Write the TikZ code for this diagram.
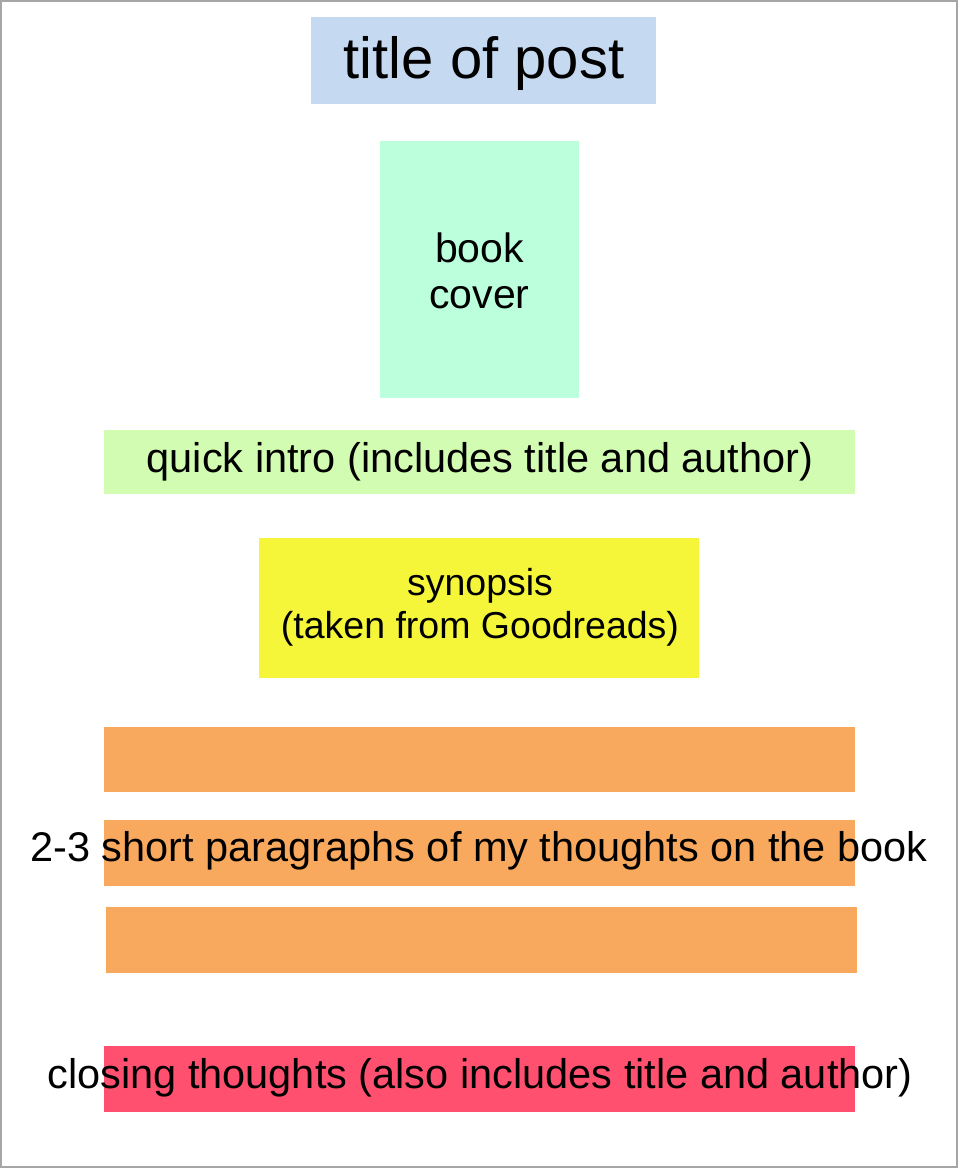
\documentclass[tikz,border=0pt]{standalone}
\usepackage{fontspec}
\setmainfont{Liberation Sans}
\definecolor{cblue}{HTML}{C5D9F1}
\definecolor{cmint}{HTML}{BBFFDC}
\definecolor{cgreen}{HTML}{D2FCB2}
\definecolor{cyellow}{HTML}{F5F53A}
\definecolor{corange}{HTML}{F9A95E}
\definecolor{cred}{HTML}{FF5070}
\begin{document}
\begin{tikzpicture}[x=1pt,y=-1pt,
  blk/.style={inner sep=0pt,draw=none},
  lbl/.style={inner sep=0pt,align=center,font=\fontsize{41.5}{46}\selectfont}]
\useasboundingbox (0,0) rectangle (958,1168);
\draw[gray!70,line width=1.5pt] (1,1) rectangle (957,1167);
\fill[cblue] (311,17) rectangle (656,104);
\node[lbl,font=\fontsize{58}{60}\selectfont] (title) at (484,63) {title of post};
\fill[cmint] (380,141) rectangle (579,398);
\node[lbl,font=\fontsize{41}{46}\selectfont] (cover) at (479.5,271) {book\\cover};
\fill[cgreen] (104,430) rectangle (855,494);
\node[lbl] (intro) at (480,462) {quick intro (includes title and author)};
\fill[cyellow] (259,538) rectangle (699,678);
\node[lbl,font=\fontsize{37.5}{43}\selectfont] (syn) at (480,607) {synopsis\\ (taken from Goodreads)};
\fill[corange] (104,727) rectangle (855,792);
\fill[corange] (104,820) rectangle (855,886);
\fill[corange] (106,907) rectangle (857,973);
\node[lbl] (par) at (479,851) {2-3 short paragraphs of my thoughts on the book};
\fill[cred] (104,1046) rectangle (855,1112);
\node[lbl] (close) at (480,1078) {closing thoughts (also includes title and author)};
\end{tikzpicture}
\end{document}
